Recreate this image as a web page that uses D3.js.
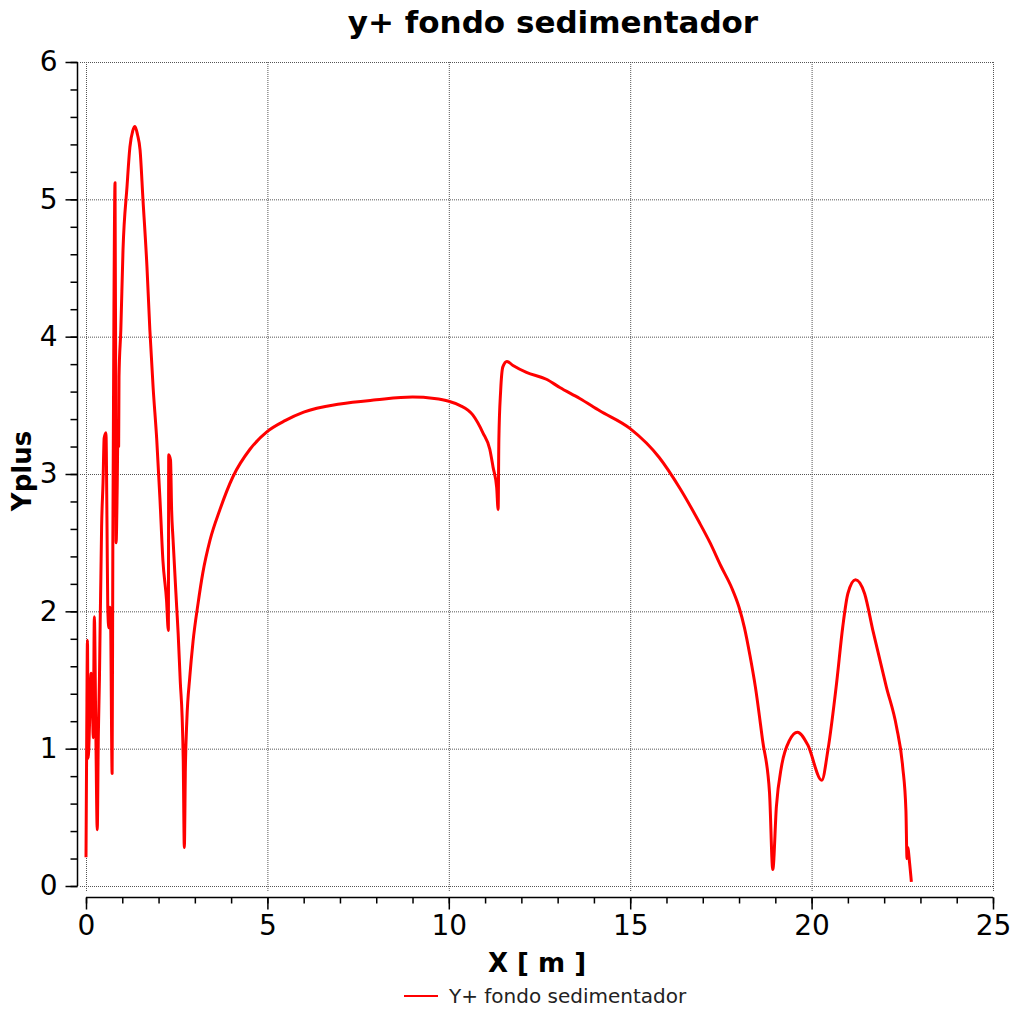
<!DOCTYPE html>
<html>
<head>
<meta charset="utf-8">
<script src="https://cdnjs.cloudflare.com/ajax/libs/d3/7.8.5/d3.min.js"></script>
<style>
    body { margin: 0; background: #fff; }
    .grid line { stroke: #555; stroke-width: 1; stroke-dasharray: 1,1; }
    .axis text { font-family: "DejaVu Sans", sans-serif; font-size: 28px; fill: #000; }
</style>
</head>
<body>
<div id="chart"></div>
<script>
// values
var xValues = [0.0, 0.02, 0.04, 0.06, 0.1, 0.14, 0.18, 0.2, 0.23, 0.27, 0.31, 0.34, 0.37, 0.39, 0.41, 0.43, 0.47, 0.5, 0.55, 0.58,
    0.6, 0.63, 0.66, 0.68, 0.72, 0.74, 0.77, 0.8, 0.82, 0.83, 0.86, 0.88, 0.9, 0.91, 0.96, 1.02, 1.13, 1.21, 1.29, 1.35,
    1.42, 1.49, 1.57, 1.68, 1.76, 1.85, 1.95, 2.04, 2.12, 2.22, 2.27, 2.28, 2.33, 2.36, 2.4, 2.5, 2.54, 2.6, 2.65, 2.68,
    2.71, 2.74, 2.78, 2.86, 2.95, 3.09, 3.22, 3.42, 3.69, 4.05, 4.52, 5.0, 5.5, 6.0, 7.0, 8.0, 9.0, 9.6, 10.0, 10.3,
    10.66, 10.94, 11.13, 11.22, 11.32, 11.36, 11.38, 11.43, 11.49, 11.6, 11.77, 12.14, 12.69, 13.06, 13.61, 14.16, 15.0, 15.8, 16.36, 16.9,
    17.2, 17.5, 17.8, 18.0, 18.15, 18.3, 18.45, 18.65, 18.84, 18.93, 19.03, 19.17, 19.39, 19.61, 19.89, 20.28, 20.45, 20.69, 20.86, 21.0,
    21.21, 21.46, 21.69, 22.06, 22.34, 22.51, 22.6, 22.63, 22.65, 22.7, 22.75];
var yValues = [0.21, 1.1, 1.79, 0.93, 1.2, 1.55, 1.3, 1.08, 1.96, 1.15, 0.41, 1.1, 1.5, 1.9, 2.25, 2.61, 2.94, 3.26, 3.3, 2.6,
    2.03, 1.88, 2.03, 1.9, 0.82, 2.5, 4.2, 5.12, 3.5, 2.5, 2.9, 3.3, 3.2, 3.71, 4.05, 4.63, 5.09, 5.38, 5.5, 5.53,
    5.47, 5.36, 5.0, 4.51, 4.05, 3.63, 3.25, 2.81, 2.37, 2.08, 1.86, 3.14, 3.1, 2.74, 2.52, 2.03, 1.84, 1.48, 1.23, 0.92,
    0.28, 0.87, 1.21, 1.52, 1.78, 2.06, 2.28, 2.52, 2.74, 2.98, 3.18, 3.31, 3.39, 3.45, 3.51, 3.54, 3.56, 3.55, 3.53, 3.5,
    3.43, 3.3, 3.18, 3.05, 2.9, 2.74, 3.25, 3.61, 3.78, 3.82, 3.79, 3.74, 3.69, 3.63, 3.55, 3.46, 3.33, 3.12, 2.9, 2.65,
    2.5, 2.33, 2.17, 2.03, 1.88, 1.68, 1.45, 1.06, 0.68, 0.12, 0.58, 0.87, 1.06, 1.12, 1.03, 0.77, 0.99, 1.48, 1.89, 2.13,
    2.23, 2.13, 1.86, 1.45, 1.16, 0.87, 0.55, 0.2, 0.28, 0.17, 0.03];

var xTicks = [0, 5, 10, 15, 20, 25];
var yTicks = [0, 1, 2, 3, 4, 5, 6];
var chartTitle = "y+ fondo sedimentador";
var xLabel = "X [ m ]";
var yLabel = "Yplus";
var seriesName = "Y+ fondo sedimentador";

function drawChart() {
    "use strict";
    var width = 1012,
        height = 1009;
    var left = 86, right = 993, top = 62, bottom = 886;

    var svg = d3.select("#chart")
        .append("svg")
        .attr("width", width)
        .attr("height", height);

    var x = d3.scaleLinear().domain([0, 25]).range([left, right]);
    var y = d3.scaleLinear().domain([0, 6]).range([bottom, top]);

    //dotted grid on the major ticks
    var grid = svg.append("g").attr("class", "grid");
    grid.selectAll(".gx")
        .data(xTicks).enter()
        .append("line")
        .attr("x1", function (d) { return x(d) + 0.5; })
        .attr("x2", function (d) { return x(d) + 0.5; })
        .attr("y1", top)
        .attr("y2", bottom + 6);
    grid.selectAll(".gy")
        .data(yTicks).enter()
        .append("line")
        .attr("x1", left - 6)
        .attr("x2", right)
        .attr("y1", function (d) { return y(d) + 0.5; })
        .attr("y2", function (d) { return y(d) + 0.5; });

    //axes sit a bit off the plot area
    var xAxis = svg.append("g")
        .attr("class", "axis")
        .attr("transform", "translate(0," + 897.5 + ")");
    xAxis.call(d3.axisBottom(x).tickValues(d3.range(0, 26, 1)).tickSize(6).tickFormat(""));
    xAxis.selectAll(".tick line").attr("stroke-width", 1.5);
    xAxis.select(".domain").attr("d", "M" + left + ",0H" + right).attr("stroke-width", 1.5);
    var xMajor = svg.append("g")
        .attr("class", "axis")
        .attr("transform", "translate(0," + 897.5 + ")")
        .call(d3.axisBottom(x).tickValues(xTicks).tickSize(12).tickPadding(6).tickFormat(d3.format("d")));
    xMajor.select(".domain").remove();
    xMajor.selectAll(".tick line").attr("stroke-width", 1.5);

    var yAxis = svg.append("g")
        .attr("class", "axis")
        .attr("transform", "translate(" + 77.5 + ",0)");
    yAxis.call(d3.axisLeft(y).tickValues(d3.range(0, 6.01, 0.2)).tickSize(7).tickFormat(""));
    yAxis.selectAll(".tick line").attr("stroke-width", 1.5);
    yAxis.select(".domain").attr("d", "M0," + top + "V" + bottom).attr("stroke-width", 1.5);
    var yMajor = svg.append("g")
        .attr("class", "axis")
        .attr("transform", "translate(" + 77.5 + ",0)")
        .call(d3.axisLeft(y).tickValues(yTicks).tickSize(12).tickPadding(8).tickFormat(d3.format("d")));
    yMajor.select(".domain").remove();
    yMajor.selectAll(".tick line").attr("stroke-width", 1.5);

    //the curve
    var points = xValues.map(function (d, i) { return [d, yValues[i]]; });
    var line = d3.line()
        .x(function (d) { return x(d[0]); })
        .y(function (d) { return y(d[1]); })
        .curve(d3.curveMonotoneX);
    svg.append("path")
        .datum(points)
        .attr("d", line)
        .attr("fill", "none")
        .attr("stroke", "#ff0000")
        .attr("stroke-width", 3)
        .attr("stroke-linejoin", "round");

    //texts
    svg.append("text")
        .attr("x", 553)
        .attr("y", 33)
        .attr("text-anchor", "middle")
        .style("font-family", "DejaVu Sans, sans-serif")
        .style("font-weight", "bold")
        .style("font-size", "31px")
        .text(chartTitle);

    svg.append("text")
        .attr("x", 537)
        .attr("y", 972)
        .attr("text-anchor", "middle")
        .style("font-family", "DejaVu Sans, sans-serif")
        .style("font-weight", "bold")
        .style("font-size", "26px")
        .text(xLabel);

    svg.append("text")
        .attr("transform", "translate(31,471) rotate(-90)")
        .attr("text-anchor", "middle")
        .style("font-family", "DejaVu Sans, sans-serif")
        .style("font-weight", "bold")
        .style("font-size", "26px")
        .text(yLabel);

    //legend
    var legend = svg.append("g").attr("transform", "translate(404,996)");
    legend.append("line")
        .attr("x1", 0).attr("x2", 34)
        .attr("y1", 0).attr("y2", 0)
        .attr("stroke", "#ff0000")
        .attr("stroke-width", 2);
    legend.append("text")
        .attr("x", 45)
        .attr("y", 7)
        .style("font-family", "DejaVu Sans, sans-serif")
        .style("font-size", "20px")
        .style("fill", "#222")
        .text(seriesName);
}

drawChart();
</script>
</body>
</html>
